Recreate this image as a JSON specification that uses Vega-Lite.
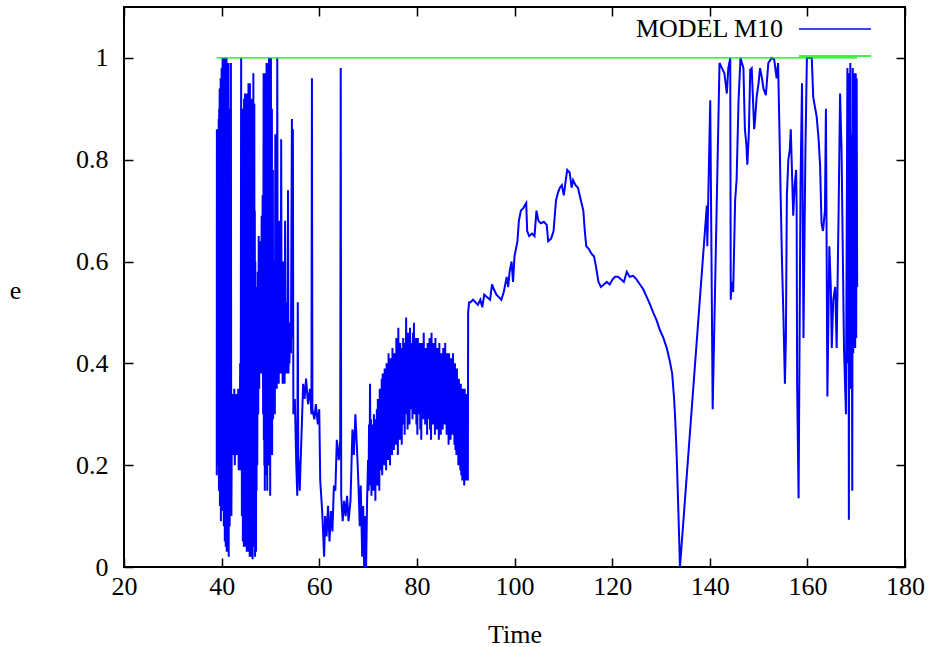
{
  "$schema": "https://vega.github.io/schema/vega-lite/v6.json",
  "width": 781,
  "height": 560,
  "autosize": "none",
  "padding": {"left": 124, "top": 7, "right": 26, "bottom": 80},
  "background": "white",
  "config": {
    "view": {"stroke": "black", "strokeWidth": 2},
    "font": "Liberation Serif",
    "axis": {
      "grid": false,
      "domain": false,
      "tickColor": "black",
      "tickWidth": 1.5,
      "tickSize": -9,
      "labelFlush": false,
      "labelOverlap": false,
      "labelFont": "Liberation Serif",
      "labelFontSize": 26,
      "labelColor": "black",
      "titleFont": "Liberation Serif",
      "titleFontSize": 26,
      "titleFontWeight": "normal",
      "titleColor": "black"
    },
    "legend": {
      "labelFont": "Liberation Serif",
      "labelFontSize": 26,
      "labelColor": "black"
    }
  },
  "datasets": {
    "blue": [
      {"t":39.0,"e":0.18},{"t":39.03,"e":0.86},{"t":39.07,"e":0.55},{"t":39.1,"e":0.82},{"t":39.15,"e":0.30},{"t":39.2,"e":0.80},{"t":39.25,"e":0.45},{"t":39.3,"e":0.72},{"t":39.35,"e":0.20},{"t":39.4,"e":0.88},{"t":39.45,"e":0.15},{"t":39.5,"e":0.90},{"t":39.55,"e":0.30},{"t":39.6,"e":0.94},{"t":39.65,"e":0.12},{"t":39.7,"e":0.85},{"t":39.75,"e":0.25},{"t":39.8,"e":0.96},{"t":39.85,"e":0.09},{"t":39.9,"e":0.92},{"t":39.95,"e":0.40},{"t":40.0,"e":0.98},{"t":40.05,"e":0.12},{"t":40.1,"e":0.90},{"t":40.15,"e":0.35},{"t":40.2,"e":1.0},{"t":40.25,"e":0.11},{"t":40.3,"e":0.95},{"t":40.35,"e":0.22},{"t":40.4,"e":0.97},{"t":40.45,"e":0.08},{"t":40.5,"e":0.80},{"t":40.55,"e":0.30},{"t":40.6,"e":1.0},{"t":40.65,"e":0.05},{"t":40.7,"e":0.92},{"t":40.75,"e":0.18},{"t":40.8,"e":0.85},{"t":40.85,"e":0.04},{"t":40.9,"e":0.96},{"t":40.95,"e":0.30},{"t":41.0,"e":1.0},{"t":41.05,"e":0.03},{"t":41.1,"e":0.88},{"t":41.15,"e":0.20},{"t":41.2,"e":0.95},{"t":41.25,"e":0.06},{"t":41.3,"e":0.80},{"t":41.35,"e":0.15},{"t":41.4,"e":0.99},{"t":41.45,"e":0.02},{"t":41.5,"e":0.70},{"t":41.55,"e":0.25},{"t":41.6,"e":0.90},{"t":41.65,"e":0.08},{"t":41.7,"e":0.75},{"t":41.8,"e":0.20},{"t":41.9,"e":0.99},{"t":41.95,"e":0.35},{"t":42.0,"e":0.10},{"t":42.1,"e":0.30},{"t":42.2,"e":0.34},{"t":42.3,"e":0.22},{"t":42.4,"e":0.33},{"t":42.5,"e":0.28},{"t":42.6,"e":0.35},{"t":42.7,"e":0.20},{"t":42.8,"e":0.32},{"t":42.9,"e":0.25},{"t":43.0,"e":0.34},{"t":43.1,"e":0.22},{"t":43.2,"e":0.30},{"t":43.3,"e":0.24},{"t":43.4,"e":0.35},{"t":43.5,"e":0.19},{"t":43.6,"e":0.30},{"t":43.7,"e":0.21},{"t":43.8,"e":0.40},{"t":43.9,"e":0.19},{"t":44.0,"e":1.0},{"t":44.05,"e":0.20},{"t":44.1,"e":0.85},{"t":44.15,"e":0.10},{"t":44.2,"e":0.60},{"t":44.25,"e":0.14},{"t":44.3,"e":0.90},{"t":44.35,"e":0.05},{"t":44.4,"e":0.86},{"t":44.45,"e":0.12},{"t":44.5,"e":0.75},{"t":44.55,"e":0.04},{"t":44.6,"e":0.92},{"t":44.65,"e":0.30},{"t":44.7,"e":0.80},{"t":44.75,"e":0.05},{"t":44.8,"e":0.93},{"t":44.85,"e":0.20},{"t":44.9,"e":0.88},{"t":44.95,"e":0.04},{"t":45.0,"e":0.93},{"t":45.05,"e":0.15},{"t":45.1,"e":0.80},{"t":45.15,"e":0.03},{"t":45.2,"e":0.70},{"t":45.25,"e":0.25},{"t":45.3,"e":0.93},{"t":45.35,"e":0.06},{"t":45.4,"e":0.85},{"t":45.45,"e":0.10},{"t":45.5,"e":0.95},{"t":45.55,"e":0.03},{"t":45.6,"e":0.78},{"t":45.65,"e":0.20},{"t":45.7,"e":0.90},{"t":45.75,"e":0.02},{"t":45.8,"e":0.95},{"t":45.85,"e":0.30},{"t":45.9,"e":0.88},{"t":45.95,"e":0.05},{"t":46.0,"e":0.90},{"t":46.05,"e":0.02},{"t":46.1,"e":0.60},{"t":46.15,"e":0.20},{"t":46.2,"e":0.92},{"t":46.25,"e":0.06},{"t":46.3,"e":0.85},{"t":46.35,"e":0.015},{"t":46.4,"e":0.92},{"t":46.45,"e":0.10},{"t":46.5,"e":0.97},{"t":46.55,"e":0.25},{"t":46.6,"e":0.88},{"t":46.65,"e":0.04},{"t":46.7,"e":0.91},{"t":46.75,"e":0.09},{"t":46.8,"e":0.70},{"t":46.85,"e":0.02},{"t":46.9,"e":0.60},{"t":46.95,"e":0.20},{"t":47.0,"e":0.55},{"t":47.05,"e":0.03},{"t":47.1,"e":0.50},{"t":47.15,"e":0.15},{"t":47.2,"e":0.45},{"t":47.3,"e":0.20},{"t":47.4,"e":0.58},{"t":47.5,"e":0.30},{"t":47.6,"e":0.65},{"t":47.7,"e":0.35},{"t":47.8,"e":0.60},{"t":47.9,"e":0.40},{"t":48.0,"e":0.64},{"t":48.1,"e":0.38},{"t":48.2,"e":0.69},{"t":48.3,"e":0.45},{"t":48.4,"e":0.73},{"t":48.5,"e":0.30},{"t":48.6,"e":0.97},{"t":48.65,"e":0.25},{"t":48.7,"e":0.94},{"t":48.75,"e":0.20},{"t":48.8,"e":0.90},{"t":48.85,"e":0.15},{"t":48.9,"e":0.85},{"t":48.95,"e":0.30},{"t":49.0,"e":0.97},{"t":49.05,"e":0.18},{"t":49.1,"e":0.75},{"t":49.15,"e":0.25},{"t":49.2,"e":0.99},{"t":49.25,"e":0.20},{"t":49.3,"e":0.60},{"t":49.35,"e":0.15},{"t":49.4,"e":0.85},{"t":49.45,"e":0.30},{"t":49.5,"e":0.99},{"t":49.55,"e":0.20},{"t":49.6,"e":0.95},{"t":49.65,"e":0.40},{"t":49.7,"e":1.0},{"t":49.75,"e":0.25},{"t":49.8,"e":0.86},{"t":49.85,"e":0.20},{"t":49.9,"e":0.70},{"t":49.95,"e":0.14},{"t":50.0,"e":0.98},{"t":50.05,"e":0.30},{"t":50.1,"e":1.0},{"t":50.15,"e":0.25},{"t":50.2,"e":0.80},{"t":50.25,"e":0.35},{"t":50.3,"e":0.90},{"t":50.35,"e":0.22},{"t":50.4,"e":0.70},{"t":50.45,"e":0.30},{"t":50.5,"e":0.78},{"t":50.55,"e":0.29},{"t":50.6,"e":0.60},{"t":50.7,"e":0.35},{"t":50.8,"e":0.56},{"t":50.9,"e":0.30},{"t":51.0,"e":0.85},{"t":51.1,"e":0.38},{"t":51.2,"e":0.60},{"t":51.3,"e":0.35},{"t":51.4,"e":1.0},{"t":51.5,"e":0.40},{"t":51.6,"e":0.55},{"t":51.7,"e":0.36},{"t":51.8,"e":0.68},{"t":51.9,"e":0.40},{"t":52.0,"e":0.50},{"t":52.1,"e":0.38},{"t":52.2,"e":0.84},{"t":52.3,"e":0.40},{"t":52.4,"e":0.55},{"t":52.5,"e":0.36},{"t":52.6,"e":0.60},{"t":52.7,"e":0.38},{"t":52.8,"e":0.46},{"t":52.9,"e":0.36},{"t":53.0,"e":0.68},{"t":53.1,"e":0.40},{"t":53.2,"e":0.50},{"t":53.3,"e":0.38},{"t":53.4,"e":0.52},{"t":53.5,"e":0.40},{"t":53.6,"e":0.74},{"t":53.7,"e":0.38},{"t":53.8,"e":0.45},{"t":53.9,"e":0.40},{"t":54.0,"e":0.48},{"t":54.2,"e":0.42},{"t":54.4,"e":0.88},{"t":54.5,"e":0.45},{"t":54.6,"e":0.86},{"t":54.7,"e":0.30},{"t":55.0,"e":0.33},{"t":55.3,"e":0.20},{"t":55.5,"e":0.14},{"t":55.6,"e":0.52},{"t":55.7,"e":0.22},{"t":56.0,"e":0.15},{"t":56.3,"e":0.24},{"t":56.7,"e":0.36},{"t":57.0,"e":0.33},{"t":57.3,"e":0.37},{"t":57.7,"e":0.32},{"t":58.1,"e":0.35},{"t":58.4,"e":0.30},{"t":58.5,"e":0.96},{"t":58.6,"e":0.31},{"t":59.0,"e":0.29},{"t":59.3,"e":0.32},{"t":59.7,"e":0.28},{"t":60.0,"e":0.31},{"t":60.2,"e":0.17},{"t":60.6,"e":0.11},{"t":61.0,"e":0.02},{"t":61.2,"e":0.10},{"t":61.5,"e":0.06},{"t":61.8,"e":0.12},{"t":62.1,"e":0.05},{"t":62.4,"e":0.11},{"t":62.7,"e":0.07},{"t":63.0,"e":0.16},{"t":63.3,"e":0.15},{"t":63.6,"e":0.25},{"t":64.0,"e":0.21},{"t":64.3,"e":0.25},{"t":64.4,"e":0.98},{"t":64.5,"e":0.14},{"t":64.8,"e":0.09},{"t":65.1,"e":0.13},{"t":65.4,"e":0.10},{"t":65.7,"e":0.14},{"t":66.0,"e":0.09},{"t":66.4,"e":0.13},{"t":66.8,"e":0.27},{"t":67.1,"e":0.22},{"t":67.4,"e":0.30},{"t":67.7,"e":0.24},{"t":68.0,"e":0.17},{"t":68.3,"e":0.08},{"t":68.5,"e":0.16},{"t":68.8,"e":0.02},{"t":69.0,"e":0.12},{"t":69.2,"e":0.0},{"t":69.4,"e":0.10},{"t":69.6,"e":0.0},{"t":69.8,"e":0.13},
      {"t":70.0,"e":0.21},{"t":70.1,"e":0.15},{"t":70.2,"e":0.28},{"t":70.3,"e":0.16},{"t":70.4,"e":0.36},{"t":70.5,"e":0.20},{"t":70.6,"e":0.29},{"t":70.7,"e":0.14},{"t":70.8,"e":0.28},{"t":70.9,"e":0.19},{"t":71.0,"e":0.25},{"t":71.1,"e":0.15},{"t":71.2,"e":0.30},{"t":71.3,"e":0.17},{"t":71.4,"e":0.27},{"t":71.5,"e":0.13},{"t":71.6,"e":0.29},{"t":71.7,"e":0.18},{"t":71.8,"e":0.31},{"t":71.9,"e":0.16},{"t":72.0,"e":0.33},{"t":72.1,"e":0.20},{"t":72.2,"e":0.28},{"t":72.3,"e":0.15},{"t":72.4,"e":0.35},{"t":72.5,"e":0.19},{"t":72.6,"e":0.31},{"t":72.7,"e":0.21},{"t":72.8,"e":0.37},{"t":72.9,"e":0.18},{"t":73.0,"e":0.38},{"t":73.1,"e":0.22},{"t":73.2,"e":0.33},{"t":73.3,"e":0.20},{"t":73.4,"e":0.39},{"t":73.5,"e":0.24},{"t":73.6,"e":0.32},{"t":73.7,"e":0.19},{"t":73.8,"e":0.40},{"t":73.9,"e":0.23},{"t":74.0,"e":0.36},{"t":74.1,"e":0.21},{"t":74.2,"e":0.42},{"t":74.3,"e":0.25},{"t":74.4,"e":0.37},{"t":74.5,"e":0.20},{"t":74.6,"e":0.41},{"t":74.7,"e":0.26},{"t":74.8,"e":0.38},{"t":74.9,"e":0.22},{"t":75.0,"e":0.43},{"t":75.1,"e":0.27},{"t":75.2,"e":0.39},{"t":75.3,"e":0.23},{"t":75.4,"e":0.42},{"t":75.5,"e":0.28},{"t":75.6,"e":0.38},{"t":75.7,"e":0.24},{"t":75.8,"e":0.45},{"t":75.9,"e":0.26},{"t":76.0,"e":0.40},{"t":76.1,"e":0.22},{"t":76.2,"e":0.47},{"t":76.3,"e":0.29},{"t":76.4,"e":0.41},{"t":76.5,"e":0.25},{"t":76.6,"e":0.44},{"t":76.7,"e":0.30},{"t":76.8,"e":0.39},{"t":76.9,"e":0.24},{"t":77.0,"e":0.43},{"t":77.1,"e":0.28},{"t":77.2,"e":0.45},{"t":77.3,"e":0.31},{"t":77.4,"e":0.40},{"t":77.5,"e":0.26},{"t":77.6,"e":0.44},{"t":77.7,"e":0.30},{"t":77.8,"e":0.49},{"t":77.9,"e":0.32},{"t":78.0,"e":0.42},{"t":78.1,"e":0.27},{"t":78.2,"e":0.46},{"t":78.3,"e":0.33},{"t":78.4,"e":0.41},{"t":78.5,"e":0.28},{"t":78.6,"e":0.47},{"t":78.7,"e":0.31},{"t":78.8,"e":0.43},{"t":78.9,"e":0.34},{"t":79.0,"e":0.44},{"t":79.1,"e":0.29},{"t":79.2,"e":0.46},{"t":79.3,"e":0.33},{"t":79.4,"e":0.48},{"t":79.5,"e":0.30},{"t":79.6,"e":0.42},{"t":79.7,"e":0.35},{"t":79.8,"e":0.45},{"t":79.9,"e":0.28},{"t":80.0,"e":0.43},{"t":80.1,"e":0.26},{"t":80.2,"e":0.45},{"t":80.3,"e":0.34},{"t":80.4,"e":0.41},{"t":80.5,"e":0.30},{"t":80.6,"e":0.44},{"t":80.7,"e":0.27},{"t":80.8,"e":0.40},{"t":80.9,"e":0.25},{"t":81.0,"e":0.44},{"t":81.1,"e":0.31},{"t":81.2,"e":0.42},{"t":81.3,"e":0.29},{"t":81.4,"e":0.46},{"t":81.5,"e":0.34},{"t":81.6,"e":0.41},{"t":81.7,"e":0.28},{"t":81.8,"e":0.43},{"t":81.9,"e":0.30},{"t":82.0,"e":0.40},{"t":82.1,"e":0.26},{"t":82.2,"e":0.44},{"t":82.3,"e":0.33},{"t":82.4,"e":0.42},{"t":82.5,"e":0.29},{"t":82.6,"e":0.45},{"t":82.7,"e":0.27},{"t":82.8,"e":0.41},{"t":82.9,"e":0.25},{"t":83.0,"e":0.46},{"t":83.1,"e":0.31},{"t":83.2,"e":0.42},{"t":83.3,"e":0.28},{"t":83.4,"e":0.44},{"t":83.5,"e":0.33},{"t":83.6,"e":0.40},{"t":83.7,"e":0.26},{"t":83.8,"e":0.45},{"t":83.9,"e":0.30},{"t":84.0,"e":0.41},{"t":84.1,"e":0.27},{"t":84.2,"e":0.43},{"t":84.3,"e":0.31},{"t":84.4,"e":0.39},{"t":84.5,"e":0.25},{"t":84.6,"e":0.44},{"t":84.7,"e":0.29},{"t":84.8,"e":0.40},{"t":84.9,"e":0.26},{"t":85.0,"e":0.42},{"t":85.1,"e":0.30},{"t":85.2,"e":0.40},{"t":85.3,"e":0.27},{"t":85.4,"e":0.43},{"t":85.5,"e":0.32},{"t":85.6,"e":0.41},{"t":85.7,"e":0.28},{"t":85.8,"e":0.44},{"t":85.9,"e":0.30},{"t":86.0,"e":0.39},{"t":86.1,"e":0.26},{"t":86.2,"e":0.42},{"t":86.3,"e":0.29},{"t":86.4,"e":0.40},{"t":86.5,"e":0.24},{"t":86.6,"e":0.42},{"t":86.7,"e":0.28},{"t":86.8,"e":0.38},{"t":86.9,"e":0.25},{"t":87.0,"e":0.41},{"t":87.1,"e":0.29},{"t":87.2,"e":0.39},{"t":87.3,"e":0.26},{"t":87.4,"e":0.42},{"t":87.5,"e":0.28},{"t":87.6,"e":0.37},{"t":87.7,"e":0.24},{"t":87.8,"e":0.40},{"t":87.9,"e":0.23},{"t":88.0,"e":0.36},{"t":88.1,"e":0.22},{"t":88.2,"e":0.39},{"t":88.3,"e":0.25},{"t":88.4,"e":0.35},{"t":88.5,"e":0.20},{"t":88.6,"e":0.37},{"t":88.7,"e":0.22},{"t":88.8,"e":0.34},{"t":88.9,"e":0.19},{"t":89.0,"e":0.36},{"t":89.1,"e":0.18},{"t":89.2,"e":0.33},{"t":89.3,"e":0.17},{"t":89.4,"e":0.35},{"t":89.5,"e":0.19},{"t":89.6,"e":0.32},{"t":89.7,"e":0.16},{"t":89.8,"e":0.35},{"t":89.9,"e":0.18},{"t":90.0,"e":0.33},{"t":90.1,"e":0.17},{"t":90.2,"e":0.34},{"t":90.3,"e":0.19},{"t":90.4,"e":0.31},{"t":90.45,"e":0.17},{"t":90.5,"e":0.50},{"t":90.7,"e":0.52},
      {"t":91.0,"e":0.52},{"t":91.5,"e":0.525},{"t":92.0,"e":0.52},{"t":92.5,"e":0.515},{"t":93.0,"e":0.525},{"t":93.4,"e":0.51},{"t":93.8,"e":0.535},{"t":94.4,"e":0.53},{"t":95.0,"e":0.525},{"t":95.4,"e":0.555},{"t":95.8,"e":0.545},{"t":96.3,"e":0.535},{"t":96.8,"e":0.53},{"t":97.3,"e":0.525},{"t":97.8,"e":0.54},{"t":98.4,"e":0.57},{"t":98.7,"e":0.55},{"t":99.0,"e":0.58},{"t":99.4,"e":0.60},{"t":99.7,"e":0.56},{"t":100.0,"e":0.61},{"t":100.6,"e":0.64},{"t":100.9,"e":0.68},{"t":101.3,"e":0.70},{"t":101.8,"e":0.705},{"t":102.4,"e":0.715},{"t":102.6,"e":0.66},{"t":103.0,"e":0.65},{"t":103.6,"e":0.655},{"t":104.1,"e":0.65},{"t":104.5,"e":0.70},{"t":104.9,"e":0.68},{"t":105.4,"e":0.675},{"t":106.0,"e":0.678},{"t":106.6,"e":0.672},{"t":106.9,"e":0.64},{"t":107.5,"e":0.645},{"t":108.0,"e":0.66},{"t":108.5,"e":0.72},{"t":108.9,"e":0.735},{"t":109.3,"e":0.745},{"t":109.7,"e":0.75},{"t":110.1,"e":0.73},{"t":110.5,"e":0.76},{"t":110.8,"e":0.78},{"t":111.3,"e":0.775},{"t":111.7,"e":0.745},{"t":112.0,"e":0.76},{"t":112.5,"e":0.75},{"t":113.0,"e":0.745},{"t":113.6,"e":0.72},{"t":114.1,"e":0.70},{"t":114.4,"e":0.66},{"t":114.7,"e":0.63},{"t":115.2,"e":0.625},{"t":115.8,"e":0.615},{"t":116.3,"e":0.61},{"t":116.7,"e":0.59},{"t":117.2,"e":0.56},{"t":117.7,"e":0.55},{"t":118.3,"e":0.555},{"t":118.9,"e":0.56},{"t":119.5,"e":0.555},{"t":120.1,"e":0.565},{"t":120.6,"e":0.57},{"t":121.2,"e":0.57},{"t":121.8,"e":0.565},{"t":122.4,"e":0.56},{"t":123.0,"e":0.58},{"t":123.6,"e":0.57},{"t":124.3,"e":0.572},{"t":125.0,"e":0.565},{"t":125.7,"e":0.555},{"t":126.4,"e":0.545},{"t":127.1,"e":0.53},{"t":127.8,"e":0.515},{"t":128.4,"e":0.50},{"t":129.1,"e":0.485},{"t":129.8,"e":0.465},{"t":130.5,"e":0.45},{"t":131.2,"e":0.43},{"t":131.8,"e":0.405},{"t":132.3,"e":0.38},{"t":132.7,"e":0.33},{"t":132.9,"e":0.295},{"t":133.1,"e":0.25},{"t":133.3,"e":0.197},{"t":133.6,"e":0.10},{"t":133.9,"e":0.0},
      {"t":139.4,"e":0.71},{"t":139.5,"e":0.63},{"t":140.1,"e":0.917},{"t":140.6,"e":0.31},{"t":142.0,"e":0.99},{"t":142.5,"e":0.98},{"t":143.0,"e":0.97},{"t":143.5,"e":0.93},{"t":143.8,"e":0.98},{"t":144.2,"e":1.0},{"t":144.3,"e":0.525},{"t":144.5,"e":0.56},{"t":144.8,"e":0.54},{"t":145.2,"e":0.72},{"t":145.5,"e":0.76},{"t":145.9,"e":0.917},{"t":146.3,"e":1.0},{"t":146.6,"e":0.99},{"t":146.9,"e":0.98},{"t":147.2,"e":0.86},{"t":147.5,"e":0.83},{"t":147.7,"e":0.79},{"t":148.0,"e":0.85},{"t":148.3,"e":0.977},{"t":148.6,"e":0.98},{"t":149.1,"e":0.86},{"t":149.3,"e":0.88},{"t":149.6,"e":0.923},{"t":150.0,"e":0.95},{"t":150.3,"e":0.98},{"t":150.7,"e":0.96},{"t":151.0,"e":0.94},{"t":151.5,"e":0.927},{"t":152.0,"e":0.99},{"t":152.7,"e":1.0},{"t":153.2,"e":0.997},{"t":153.7,"e":0.96},{"t":154.0,"e":0.99},{"t":154.3,"e":0.85},{"t":154.5,"e":0.74},{"t":154.8,"e":0.60},{"t":155.1,"e":0.49},{"t":155.4,"e":0.36},{"t":155.6,"e":0.45},{"t":155.8,"e":0.73},{"t":156.1,"e":0.80},{"t":156.4,"e":0.82},{"t":156.6,"e":0.86},{"t":157.1,"e":0.69},{"t":157.4,"e":0.75},{"t":157.7,"e":0.78},{"t":157.8,"e":0.71},{"t":157.9,"e":0.36},{"t":158.2,"e":0.135},{"t":158.6,"e":0.755},{"t":158.9,"e":0.95},{"t":159.2,"e":0.45},{"t":159.6,"e":0.82},{"t":159.9,"e":1.0},{"t":160.4,"e":1.0},{"t":160.9,"e":1.0},{"t":161.2,"e":0.923},{"t":161.9,"e":0.885},{"t":162.3,"e":0.84},{"t":162.6,"e":0.79},{"t":162.9,"e":0.675},{"t":163.2,"e":0.66},{"t":163.6,"e":0.70},{"t":163.8,"e":0.90},{"t":164.1,"e":0.335},{"t":164.5,"e":0.63},{"t":164.8,"e":0.55},{"t":165.0,"e":0.43},{"t":165.3,"e":0.525},{"t":165.7,"e":0.55},{"t":166.0,"e":0.43},{"t":166.4,"e":0.70},{"t":166.7,"e":0.93},{"t":167.0,"e":0.82},{"t":167.5,"e":0.43},{"t":167.9,"e":0.30},{"t":168.2,"e":0.98},{"t":168.3,"e":0.40},{"t":168.4,"e":0.96},{"t":168.5,"e":0.093},{"t":168.6,"e":0.97},{"t":168.7,"e":0.50},{"t":168.8,"e":0.99},{"t":168.9,"e":0.35},{"t":169.0,"e":0.85},{"t":169.1,"e":0.60},{"t":169.2,"e":0.15},{"t":169.3,"e":0.98},{"t":169.4,"e":0.42},{"t":169.5,"e":0.97},{"t":169.6,"e":0.45},{"t":169.7,"e":0.96},{"t":169.8,"e":0.43},{"t":169.9,"e":0.97},{"t":170.0,"e":0.45},{"t":170.1,"e":0.96},{"t":170.2,"e":0.55}
    ],
    "green": [
      {"t": 39.0, "e": 1.0},
      {"t": 170.2, "e": 1.0}
    ]
  },
  "layer": [
    {
      "data": {"name": "blue"},
      "mark": {"type": "line", "strokeWidth": 2, "clip": true},
      "encoding": {
        "x": {
          "field": "t", "type": "quantitative",
          "scale": {"domain": [20, 180], "nice": false, "zero": false},
          "axis": {"title": "Time", "values": [20,40,60,80,100,120,140,160,180], "labelPadding": 15, "titleY": 67, "titleBaseline": "middle", "titlePadding": 0}
        },
        "y": {
          "field": "e", "type": "quantitative",
          "scale": {"domain": [0, 1.1], "nice": false},
          "axis": {"title": "e", "values": [0,0.2,0.4,0.6,0.8,1], "format": ".1~f", "labelPadding": 25, "titleAngle": 0, "titleX": -109, "titleY": 283, "titleAlign": "center", "titleBaseline": "middle"}
        },
        "color": {
          "datum": "MODEL M10",
          "scale": {"domain": ["MODEL M10", " "], "range": ["#0000ff", "#00ee00"]},
          "legend": {
            "title": null,
            "orient": "none",
            "legendX": 698,
            "legendY": 9,
            "rowPadding": 1,
            "symbolType": "M-3,0H3",
            "symbolSize": 576,
            "symbolStrokeWidth": 1.5,
            "labelAlign": "right",
            "labelOffset": -65
          }
        }
      }
    },
    {
      "data": {"name": "green"},
      "mark": {"type": "line", "strokeWidth": 1.4, "clip": true},
      "encoding": {
        "x": {"field": "t", "type": "quantitative", "axis": {"orient": "top", "labels": false, "title": null, "values": [20,40,60,80,100,120,140,160,180]}},
        "y": {"field": "e", "type": "quantitative", "axis": {"orient": "right", "labels": false, "title": null, "values": [0,0.2,0.4,0.6,0.8,1]}},
        "color": {"datum": " "}
      }
    }
  ],
  "resolve": {"axis": {"x": "independent", "y": "independent"}}
}
